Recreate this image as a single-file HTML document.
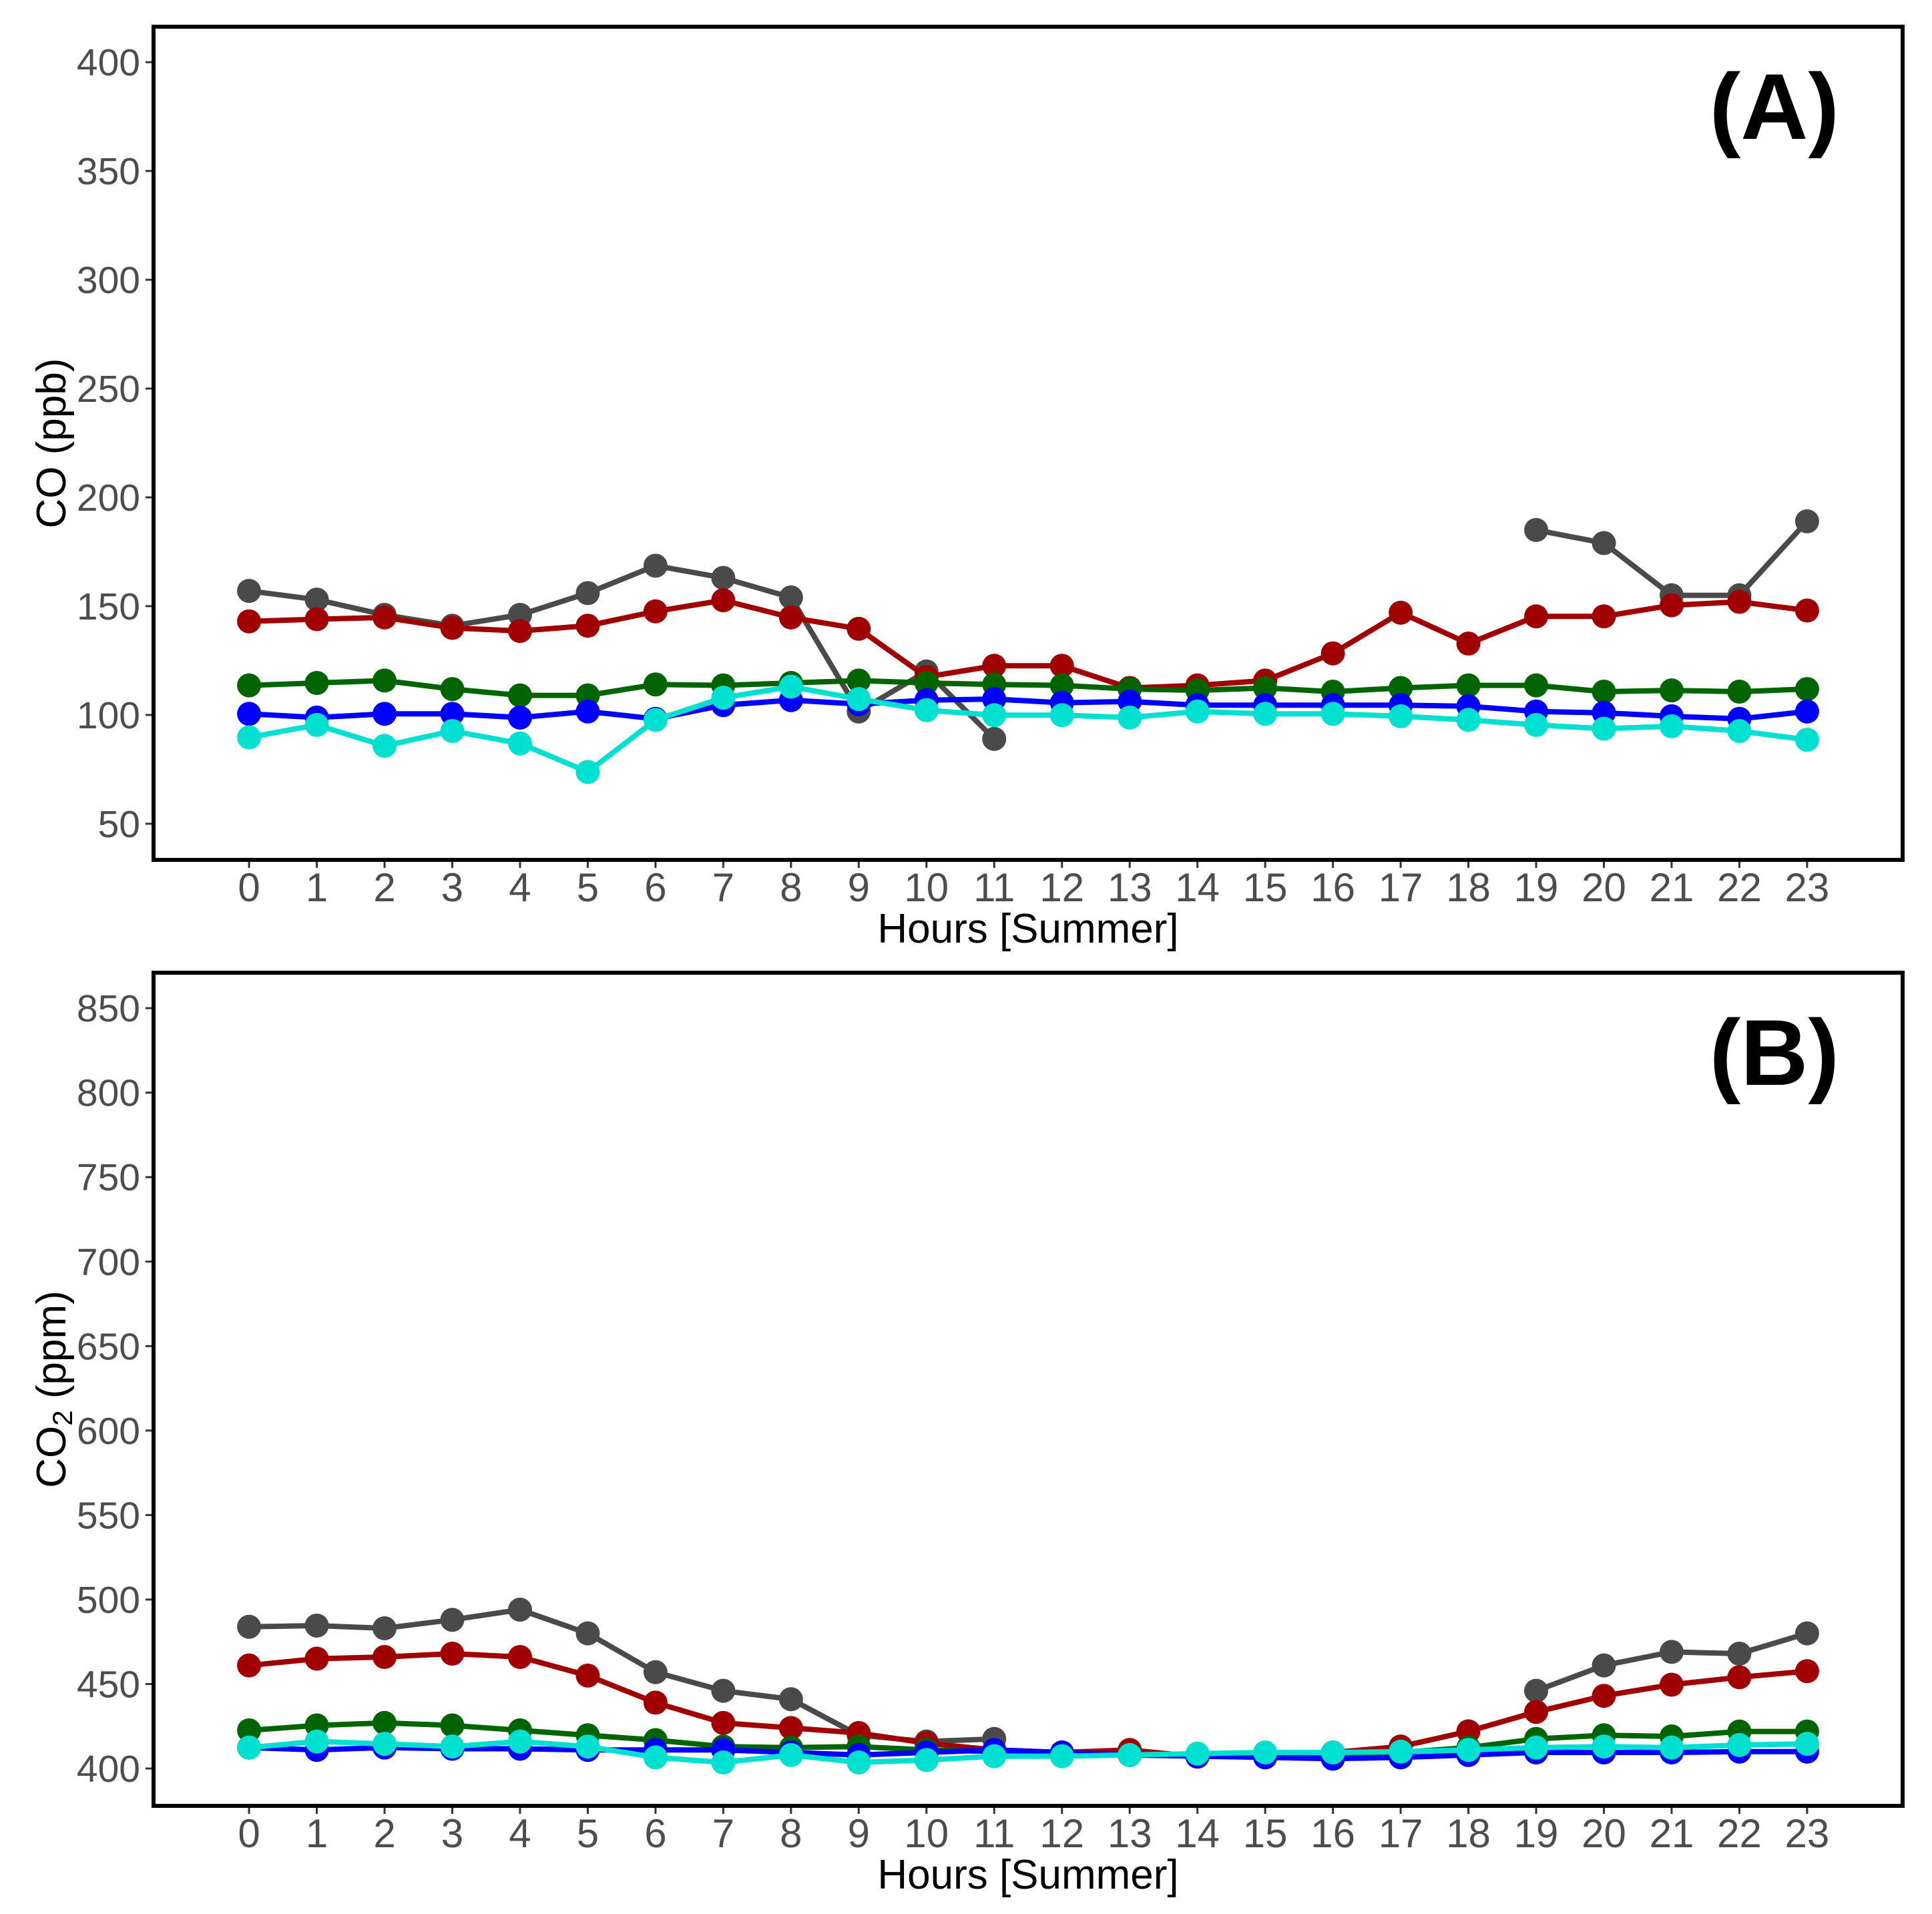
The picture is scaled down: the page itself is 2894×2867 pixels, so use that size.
<!DOCTYPE html>
<html><head><meta charset="utf-8"><style>
html,body{margin:0;padding:0;background:#fff}
svg{display:block}
text{font-family:"Liberation Sans",Arial,sans-serif}
</style></head><body>
<svg id="chart" width="2894" height="2867" viewBox="0 0 2894 2867"></svg>
<script>
const hours = [0,1,2,3,4,5,6,7,8,9,10,11,12,13,14,15,16,17,18,19,20,21,22,23];
const coTicks = [50,100,150,200,250,300,350,400];
const co2Ticks = [400,450,500,550,600,650,700,750,800,850];
const coGray = [157,153,146,141,146,156,168.6,163,154,101.6,120,89,null,null,null,null,null,null,null,185,179,155,155,189];
const coRed = [143,144,144.8,140,138.6,141,147.6,152.7,144.8,139.6,117.5,122.6,122.6,112.4,113.6,115.8,128.3,147,132.8,145.3,145.3,150.4,152,148];
const coGreen = [113.6,114.7,115.8,111.9,109,109,114,113.6,114.7,115.8,114.7,114,113.6,111.9,111.3,112.4,110.7,112.4,113.6,113.6,110.7,111.3,110.7,111.9];
const coBlue = [100.5,98.8,100.5,100.5,98.8,101.6,98.2,104.5,106.8,105,106.8,107.3,105.6,106.2,104.5,104.5,104.5,104.5,104,101.6,101,99.4,98.2,101.6];
const coCyan = [89.7,95.4,85.8,92.6,86.9,73.8,97.7,107.9,113,107.3,102.2,99.9,99.9,98.8,101.6,100.5,100.5,99.4,97.7,95.4,93.7,94.8,92.6,88.6];
const co2Gray = [483.9,484.6,483,488,494,480,457,446,441,419.7,416,417.5,null,null,null,null,null,null,null,446,461,469,468,480];
const co2Red = [461,465,466,468,466,455,439,427,424,421,415,411,409.5,411,407,408,409.5,413,422,433.5,443,449.6,454,457.6];
const co2Green = [422.6,425.5,427,425.5,422.6,419.7,416.8,413,412.4,413,411,410,408.8,408,408,408.8,408.8,409.5,412.4,417.5,419.7,419,421.9,421.9];
const co2Blue = [412.4,411,412.4,411.7,411.7,411,411,411,409.5,408,409.5,411,409.5,408,407.3,406.6,405.8,406.6,408,409.5,409.5,409.5,410,410];
const co2Cyan = [412.4,416,414.6,413,416,413,406.6,403.6,408,403.6,405,407.3,407.3,408,408.8,409.5,409.5,410,411,412.4,413,412.4,413.9,414.6];

const NS="http://www.w3.org/2000/svg";
const svg=document.getElementById('chart');
function mk(tag,attrs,parent){const e=document.createElementNS(NS,tag);for(const k in attrs)e.setAttribute(k,attrs[k]);(parent||svg).appendChild(e);return e;}

function panel(cfg){
  const g=mk('g',{});
  
  
  const L=230,R=2850,T=cfg.top,B=cfg.bottom;
  const xs=h=>L+(h-(-1.41))/(25.82)*(R-L);
  const ys=v=>B-(v-cfg.ymin)/(cfg.ymax-cfg.ymin)*(B-T);
  cfg.yticks.forEach(t=>{
    const y=ys(t);
    const ln=mk('line',{x1:L-12,x2:L,y1:y,y2:y,stroke:'#333','stroke-width':3},g);
    
    
    const tx=mk('text',{x:L-20,y:y+20,'text-anchor':'end','font-size':57,fill:'#4d4d4d'},g);
    tx.textContent=t;
    
    
  });
  hours.forEach(h=>{
    const x=xs(h);
    const ln=mk('line',{x1:x,x2:x,y1:B,y2:B+12,stroke:'#333','stroke-width':3},g);
    
    
    const tx=mk('text',{x:x,y:B+62,'text-anchor':'middle','font-size':60,fill:'#4d4d4d'},g);
    tx.textContent=h;
    
    
  });
  const series=[[cfg.data[0],'#4a4a4a','gray'],[cfg.data[1],'#a00000','red'],[cfg.data[2],'#006400','green'],[cfg.data[3],'#0000ff','blue'],[cfg.data[4],'#00e0d0','cyan']];
  series.forEach(([arr,col,nm])=>{
    let d='',pen=false;
    arr.forEach((v,i)=>{ if(v==null){pen=false;return;} d+=(pen?'L':'M')+xs(hours[i]).toFixed(1)+','+ys(v).toFixed(1); pen=true;});
    const p=mk('path',{d:d,fill:'none',stroke:col,'stroke-width':8,'stroke-linejoin':'round'},g);
    
    
    arr.forEach((v,i)=>{ if(v==null)return;
      const c=mk('circle',{cx:xs(hours[i]),cy:ys(v),r:18,fill:col},g);
      
      
    });
  });
  const fr=mk('rect',{x:L,y:T,width:R-L,height:B-T,fill:'none',stroke:'#000','stroke-width':6},g);
  
  
  const xt=mk('text',{x:1540,y:B+124,'text-anchor':'middle','font-size':62,fill:'#000'},g);
  xt.textContent='Hours [Summer]';
  
  
  const yt=mk('text',{x:0,y:0,'text-anchor':'middle','font-size':62,fill:'#000',transform:`translate(98,${(T+B)/2}) rotate(-90)`},g);
  yt.innerHTML=cfg.ytitle;
  
  
  const lb=mk('text',{x:2755,y:T+168,'text-anchor':'end','font-size':140,'font-weight':'bold',fill:'#000'},g);
  lb.textContent=cfg.label;
  
  
}
panel({name:'panel-a-co',top:40,bottom:1288,ymin:33.4,ymax:416.3,yticks:coTicks,data:[coGray,coRed,coGreen,coBlue,coCyan],ytitle:'CO (ppb)',label:'(A)'});
panel({name:'panel-b-co2',top:1457,bottom:2705,ymin:377.9,ymax:871,yticks:co2Ticks,data:[co2Gray,co2Red,co2Green,co2Blue,co2Cyan],ytitle:'CO<tspan font-size="42" dy="10">2</tspan><tspan dy="-10"> (ppm)</tspan>',label:'(B)'});
</script>
</body></html>
